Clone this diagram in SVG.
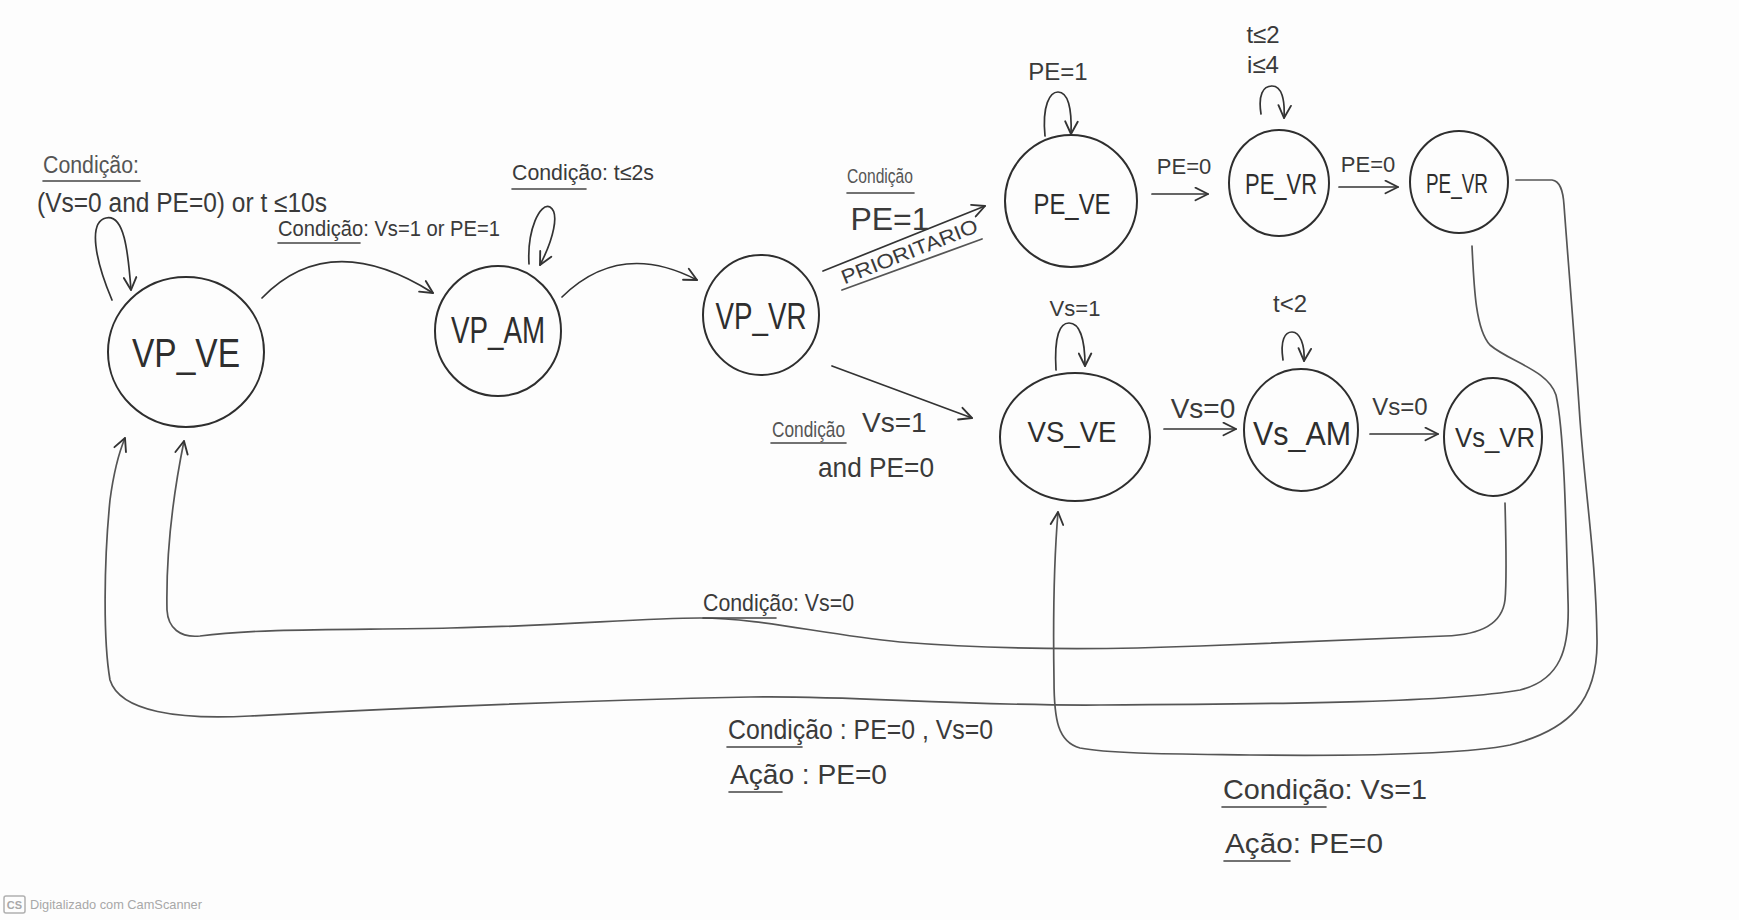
<svg xmlns="http://www.w3.org/2000/svg" width="1739" height="920" viewBox="0 0 1739 920">
<defs>
<marker id="arr" viewBox="0 0 12 12" refX="11" refY="6" markerWidth="15" markerHeight="15" markerUnits="userSpaceOnUse" orient="auto">
<path d="M1,1 L11,6 L1,11" fill="none" stroke="#333" stroke-width="1.5" stroke-linecap="round" stroke-linejoin="round"/>
</marker>
</defs>
<style>
.node{fill:none;stroke:#2e2e2e;stroke-width:2}
.nl{font-family:"Liberation Sans","DejaVu Sans",sans-serif;fill:#2e2e2e;text-anchor:middle}
.edge{fill:none;stroke:#333;stroke-width:1.7;stroke-linecap:round;marker-end:url(#arr)}
.line{fill:none;stroke:#555;stroke-width:1.8;stroke-linecap:round}
.lbl{font-family:"Liberation Sans","DejaVu Sans",sans-serif;fill:#3a3a3a}
.cond{font-family:"Liberation Sans","DejaVu Sans",sans-serif;fill:#555}
.ul{stroke:#444;stroke-width:1.6;stroke-linecap:round}
.wm{font-family:"Liberation Sans","DejaVu Sans",sans-serif;fill:#a8a8a8}
</style>
<rect x="0" y="0" width="1739" height="920" fill="#fdfdfd"/>

<g id="connectors">
<path class="edge" d="M112 300 C95 260 88 222 106 218 C124 214 128 250 131 290"/>
<path class="edge" d="M262 298 Q330 228 433 293"/>
<path class="edge" d="M529 264 C527 230 540 202 550 207 C560 213 553 240 540 265"/>
<path class="edge" d="M562 297 Q620 240 697 280"/>
<path class="edge" d="M823 271 L985 206"/>
<path class="line" d="M842 290 L982 239"/>
<path class="edge" d="M832 366 L972 418"/>
<path class="edge" d="M1045 136 C1042 105 1050 92 1058 92 C1068 92 1072 108 1071 134"/>
<path class="edge" d="M1152 194 L1208 194"/>
<path class="edge" d="M1261 114 C1258 95 1263 86 1272 86 C1282 86 1285 100 1284 118"/>
<path class="edge" d="M1339 187 L1398 187"/>
<path class="edge" d="M1056 370 C1054 335 1060 323 1069 323 C1080 323 1085 340 1085 366"/>
<path class="edge" d="M1283 360 C1280 340 1285 332 1292 332 C1300 332 1305 345 1304 361"/>
<path class="edge" d="M1164 429 L1236 429"/>
<path class="edge" d="M1370 434 L1438 434"/>
<path class="edge" style="stroke:#555" d="M1505 503 C1506 540 1507 580 1505 600 C1502 625 1480 635 1445 636 C1380 638 1300 642 1200 646 C1100 650 1000 650 900 642 C820 634 760 618 700 618 C640 618 560 626 450 628 C350 630 260 628 200 636 C180 638 168 628 167 610 C166 560 172 500 184 441"/>
<path class="edge" style="stroke:#555" d="M1472 246 C1474 290 1476 330 1490 345 C1510 362 1548 370 1556 395 C1564 430 1566 520 1568 600 C1570 650 1560 680 1520 690 C1450 702 1300 704 1100 705 C950 706 850 695 750 697 C600 700 400 708 250 716 C180 720 120 712 110 680 C103 640 104 560 110 500 C114 470 120 450 125 438"/>
<path class="edge" style="stroke:#555" d="M1516 180 L1552 180 C1560 181 1563 190 1564 205 C1568 260 1574 330 1580 420 C1586 500 1596 560 1597 640 C1598 700 1570 730 1510 745 C1460 755 1350 756 1250 755 C1180 754 1110 754 1080 748 C1058 742 1054 720 1054 680 C1053 620 1054 560 1058 512"/>
</g>

<g id="edge-labels">
<text class="cond" x="43" y="173" font-size="23" textLength="96" lengthAdjust="spacingAndGlyphs">Condição:</text>
<line class="ul" x1="43" y1="181" x2="140" y2="181"/>
<text class="lbl" x="37" y="212" font-size="27" textLength="290" lengthAdjust="spacingAndGlyphs">(Vs=0 and PE=0) or t ≤10s</text>

<text class="lbl" x="278" y="236" font-size="22" textLength="222" lengthAdjust="spacingAndGlyphs">Condição: Vs=1 or PE=1</text>
<line class="ul" x1="278" y1="243" x2="360" y2="243"/>

<text class="lbl" x="512" y="180" font-size="22" textLength="142" lengthAdjust="spacingAndGlyphs">Condição: t≤2s</text>
<line class="ul" x1="512" y1="189" x2="586" y2="189"/>

<text class="cond" x="880" y="183" font-size="20" text-anchor="middle" textLength="66" lengthAdjust="spacingAndGlyphs">Condição</text>
<line class="ul" x1="847" y1="193" x2="914" y2="193"/>
<text class="lbl" x="890" y="230" font-size="32" text-anchor="middle">PE=1</text>
<text class="lbl" x="912" y="258" font-size="20" text-anchor="middle" textLength="145" lengthAdjust="spacingAndGlyphs" transform="rotate(-21.5 912 258)">PRIORITARIO</text>

<text class="lbl" x="1058" y="80" font-size="24" text-anchor="middle">PE=1</text>
<text class="lbl" x="1263" y="43" font-size="24" text-anchor="middle">t≤2</text>
<text class="lbl" x="1263" y="73" font-size="24" text-anchor="middle">i≤4</text>
<text class="lbl" x="1184" y="174" font-size="22" text-anchor="middle">PE=0</text>
<text class="lbl" x="1368" y="172" font-size="22" text-anchor="middle">PE=0</text>

<text class="lbl" x="1075" y="316" font-size="22" text-anchor="middle">Vs=1</text>
<text class="lbl" x="1290" y="312" font-size="24" text-anchor="middle">t&lt;2</text>
<text class="lbl" x="1203" y="418" font-size="28" text-anchor="middle">Vs=0</text>
<text class="lbl" x="1400" y="415" font-size="24" text-anchor="middle">Vs=0</text>

<text class="cond" x="772" y="437" font-size="22" textLength="73" lengthAdjust="spacingAndGlyphs">Condição</text>
<line class="ul" x1="771" y1="443" x2="846" y2="443"/>
<text class="lbl" x="862" y="432" font-size="28">Vs=1</text>
<text class="lbl" x="818" y="477" font-size="28" textLength="116" lengthAdjust="spacingAndGlyphs">and PE=0</text>

<text class="lbl" x="703" y="611" font-size="24" textLength="151" lengthAdjust="spacingAndGlyphs">Condição: Vs=0</text>
<line class="ul" x1="703" y1="618" x2="776" y2="618"/>

<text class="lbl" x="728" y="739" font-size="28" textLength="265" lengthAdjust="spacingAndGlyphs">Condição : PE=0 , Vs=0</text>
<line class="ul" x1="727" y1="747" x2="802" y2="747"/>
<text class="lbl" x="730" y="784" font-size="28" textLength="157" lengthAdjust="spacingAndGlyphs">Ação : PE=0</text>
<line class="ul" x1="729" y1="792" x2="782" y2="792"/>

<text class="lbl" x="1223" y="799" font-size="28" textLength="204" lengthAdjust="spacingAndGlyphs">Condição: Vs=1</text>
<line class="ul" x1="1222" y1="807" x2="1326" y2="807"/>
<text class="lbl" x="1225" y="853" font-size="28" textLength="158" lengthAdjust="spacingAndGlyphs">Ação: PE=0</text>
<line class="ul" x1="1224" y1="861" x2="1290" y2="861"/>
</g>

<g id="VP_VE"><ellipse class="node" cx="186" cy="352" rx="78" ry="75"/><text class="nl" x="186" y="367" font-size="40" textLength="108" lengthAdjust="spacingAndGlyphs">VP_VE</text></g>
<g id="VP_AM"><ellipse class="node" cx="498" cy="331" rx="63" ry="65"/><text class="nl" x="498" y="343" font-size="36" textLength="94" lengthAdjust="spacingAndGlyphs">VP_AM</text></g>
<g id="VP_VR"><ellipse class="node" cx="761" cy="315" rx="58" ry="60"/><text class="nl" x="761" y="329" font-size="36" textLength="91" lengthAdjust="spacingAndGlyphs">VP_VR</text></g>
<g id="PE_VE"><ellipse class="node" cx="1071" cy="201" rx="66" ry="66"/><text class="nl" x="1072" y="214" font-size="30" textLength="77" lengthAdjust="spacingAndGlyphs">PE_VE</text></g>
<g id="PE_VR_1"><ellipse class="node" cx="1279" cy="183" rx="50" ry="53"/><text class="nl" x="1281" y="194" font-size="30" textLength="72" lengthAdjust="spacingAndGlyphs">PE_VR</text></g>
<g id="PE_VR_2"><ellipse class="node" cx="1459" cy="182" rx="49" ry="51"/><text class="nl" x="1457" y="193" font-size="27" textLength="62" lengthAdjust="spacingAndGlyphs">PE_VR</text></g>
<g id="VS_VE"><ellipse class="node" cx="1075" cy="437" rx="75" ry="64"/><text class="nl" x="1072" y="442" font-size="30" textLength="89" lengthAdjust="spacingAndGlyphs">VS_VE</text></g>
<g id="Vs_AM"><ellipse class="node" cx="1301" cy="430" rx="57" ry="61"/><text class="nl" x="1302" y="445" font-size="34" textLength="98" lengthAdjust="spacingAndGlyphs">Vs_AM</text></g>
<g id="Vs_VR"><ellipse class="node" cx="1493" cy="437" rx="49" ry="59"/><text class="nl" x="1495" y="447" font-size="28" textLength="80" lengthAdjust="spacingAndGlyphs">Vs_VR</text></g>

<g id="watermark">
<rect x="4" y="896" width="21" height="17" rx="2" fill="none" stroke="#b0b0b0" stroke-width="1.5"/>
<text class="wm" x="14.5" y="909" font-size="11" font-weight="bold" text-anchor="middle">CS</text>
<text class="wm" x="30" y="909" font-size="13" textLength="172" lengthAdjust="spacingAndGlyphs">Digitalizado com CamScanner</text>
</g>
</svg>
